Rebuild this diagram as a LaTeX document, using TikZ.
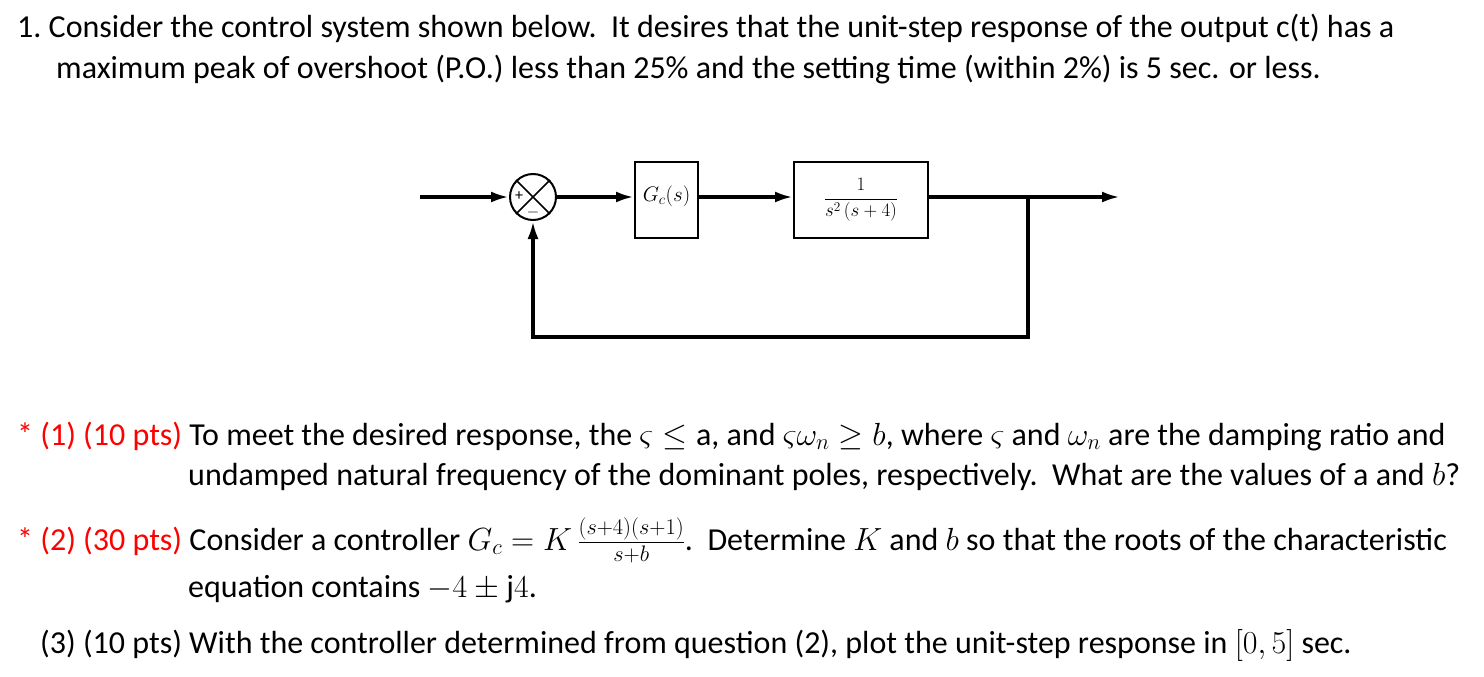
\RequirePackage{fix-cm}
\documentclass[tikz,border=0pt]{standalone}
\usepackage{amsmath}
\usepackage{fontspec}
\setmainfont{Carlito}
\usetikzlibrary{arrows.meta}
\definecolor{qred}{RGB}{255,0,0}
\tikzset{
  txt/.style={anchor=base west,inner sep=0pt,font=\fontsize{32}{38}\selectfont},
  blk/.style={draw,line width=2pt,inner sep=0pt},
  sig/.style={line width=3.5pt},
  arr/.style={sig,-{Latex[length=18pt,width=11pt]}}
}
\begin{document}
\begin{tikzpicture}[x=1pt,y=-1pt]
\useasboundingbox (0,0) rectangle (1484,677);
% text
\node[txt] (l1) at (17,38) {1.\ Consider the control system shown below.\ \ It desires that the unit-step response of the output c(t) has a};
\node[txt] (l2) at (56,78) {maximum peak of overshoot (P.O.) less than 25\% and the setting time (within 2\%) is 5 sec. or less.};
\node[txt] (q1) at (17,445) {\textcolor{qred}{* (1) (10 pts)} To meet the desired response, the $\varsigma \le \mathrm{a}$, and $\varsigma\omega_n \ge b$, where $\varsigma$ and $\omega_n$ are the damping ratio and};
\node[txt] (q1b) at (188,485) {undamped natural frequency of the dominant poles, respectively.\ \ What are the values of $\mathrm{a}$ and $b$?};
\node[txt] (q2) at (17,550) {\textcolor{qred}{* (2) (30 pts)} Consider a controller $G_c = K\,\frac{(s+4)(s+1)}{s+b}$.\ \ Determine $K$ and $b$ so that the roots of the characteristic};
\node[txt] (q2b) at (188,597) {equation contains $-4\pm \mathrm{j}4$.};
\node[txt] (q3) at (40,653) {(3) (10 pts) With the controller determined from question (2), plot the unit-step response in $[0,5]$ sec.};
% diagram
\coordinate (in) at (420,197);
\node[circle,draw,line width=2pt,minimum size=46pt,inner sep=0pt] (sum) at (533,197) {};
\draw[line width=1.5pt] (sum.north west) -- (sum.south east) (sum.north east) -- (sum.south west);
\node[font=\fontsize{16}{16}\selectfont] (plus) at (519,196) {+};
\node[font=\fontsize{16}{16}\selectfont] (minus) at (533,212) {$-$};
\node[blk,minimum width=63pt,minimum height=76pt] (gc) at (666.5,200) {};
\node[font=\fontsize{21}{24}\selectfont] (gct) at (666.5,196) {$G_c(s)$};
\node[blk,minimum width=134pt,minimum height=76pt] (pl) at (861,200) {};
\node[font=\fontsize{19}{22}\selectfont] (plt) at (861,200) {$\displaystyle\frac{1}{s^2\,(s+4)}$};
\coordinate (out) at (1120,197);
\coordinate (br) at (1028,197);
\coordinate (c1) at (1028,337);
\coordinate (c2) at (533,337);
\draw[arr] (in) -- (sum.west);
\draw[arr] (sum.east) -- (gc.west |- sum.east);
\draw[arr] (gc.east |- sum.east) -- (pl.west |- sum.east);
\draw[arr] (pl.east |- sum.east) -- (out);
\draw[arr] (br) -- (c1) -- (c2) -- (sum.south);
\end{tikzpicture}
\end{document}
